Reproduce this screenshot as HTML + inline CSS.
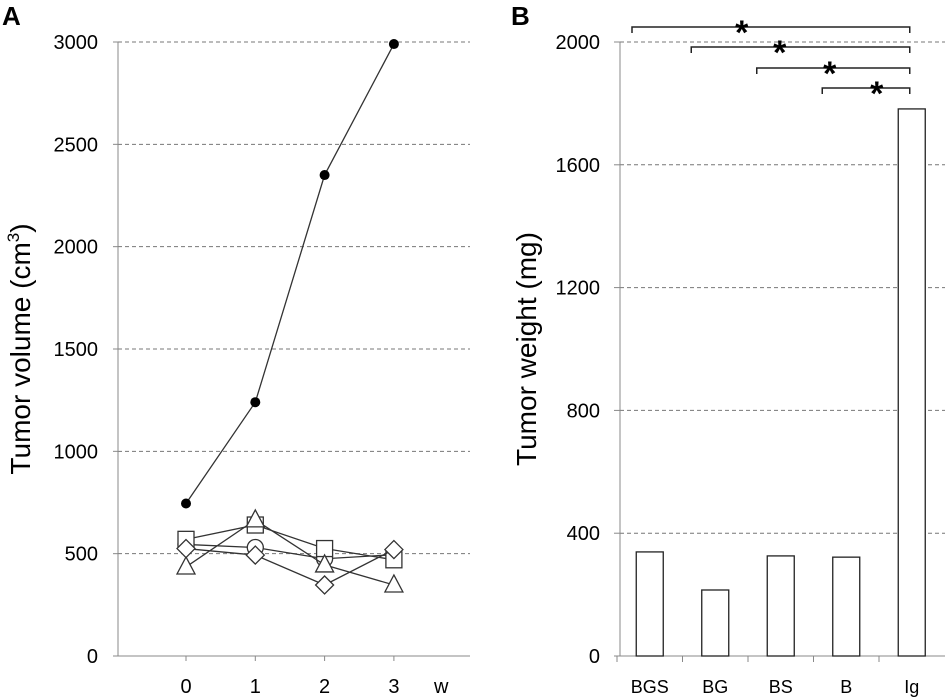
<!DOCTYPE html>
<html><head><meta charset="utf-8"><style>
body{margin:0;background:#fff}
svg{display:block;font-family:"Liberation Sans",sans-serif}
</style></head><body>
<svg id="c" width="945" height="697">
<text x="2" y="25" font-size="26" font-weight="bold">A</text>
<text x="511" y="25" font-size="26" font-weight="bold">B</text>
<text transform="translate(30,349) rotate(-90)" text-anchor="middle" font-size="28">Tumor volume (cm<tspan font-size="17" dy="-11">3</tspan><tspan dy="11">)</tspan></text>
<text transform="translate(536,349) rotate(-90)" text-anchor="middle" font-size="28">Tumor weight (mg)</text>
<g id="ga"></g><g id="gb"></g>
</svg>
<script>
const weeks=[0,1,2,3];
const volTicks=[0,500,1000,1500,2000,2500,3000];
const sFilled=[745,1240,2350,2990];
const sSquare=[570,640,525,470];
const sTriangle=[435,665,445,347];
const sCircle=[545,530,475,495];
const sDiamond=[525,493,347,520];
const cats=["BGS","BG","BS","B","Ig"];
const weights=[339,215,326,322,1782];
const wTicks=[0,400,800,1200,1600,2000];
const brackets=[[0,4],[1,4],[2,4],[3,4]];
const NS="http://www.w3.org/2000/svg";
function mk(p,t,a){const e=document.createElementNS(NS,t);for(const k in a)e.setAttribute(k,a[k]);p.appendChild(e);return e;}
const ga=document.getElementById('ga'),gb=document.getElementById('gb');
// Panel A
const ax=w=>186+w*69.3, ay=v=>656-v*(614/3000);
volTicks.forEach(v=>{
 if(v>0){const l=mk(ga,'line',{x1:118,x2:470,y1:ay(v),y2:ay(v),stroke:'#777','stroke-dasharray':'4,3'});
 
 }
 const t=mk(ga,'text',{x:98,y:ay(v)+7,'text-anchor':'end','font-size':20});t.textContent=v;
 
 
 mk(ga,'line',{x1:113,x2:118,y1:ay(v),y2:ay(v),stroke:'#888'});
});
mk(ga,'line',{x1:118,x2:118,y1:42,y2:656,stroke:'#888'});
mk(ga,'line',{x1:118,x2:470,y1:656,y2:656,stroke:'#888'});
weeks.forEach(w=>{mk(ga,'line',{x1:ax(w),x2:ax(w),y1:656,y2:661,stroke:'#888'});
 const t=mk(ga,'text',{x:ax(w),y:693,'text-anchor':'middle','font-size':20});t.textContent=w;
 
 });
const wl=mk(ga,'text',{x:434,y:693,'font-size':20});wl.textContent='w';
function series(vals,shape,name){
 const pts=vals.map((v,i)=>ax(weeks[i])+','+ay(v)).join(' ');
 const pl=mk(ga,'polyline',{points:pts,fill:'none',stroke:'#333','stroke-width':1.3});
 
 
 vals.forEach((v,i)=>{const x=ax(weeks[i]),y=ay(v);let e;
  if(shape=='filled')e=mk(ga,'circle',{cx:x,cy:y,r:5,fill:'#000'});
  else if(shape=='circle')e=mk(ga,'circle',{cx:x,cy:y,r:8,fill:'#fff',stroke:'#333','stroke-width':1.3});
  else if(shape=='square')e=mk(ga,'rect',{x:x-8,y:y-8,width:16,height:16,fill:'#fff',stroke:'#333','stroke-width':1.3});
  else if(shape=='triangle')e=mk(ga,'polygon',{points:`${x},${y-10} ${x+9},${y+7} ${x-9},${y+7}`,fill:'#fff',stroke:'#333','stroke-width':1.3});
  else e=mk(ga,'polygon',{points:`${x},${y-9} ${x+9},${y} ${x},${y+9} ${x-9},${y}`,fill:'#fff',stroke:'#333','stroke-width':1.3});
  
  });
}
series(sCircle,'circle','circle-series');
series(sSquare,'square','square-series');
series(sTriangle,'triangle','triangle-series');
series(sDiamond,'diamond','diamond-series');
series(sFilled,'filled','filled-series');
// Panel B
const band=65.5,bx=i=>617+band*(i+0.5), by=v=>656-v*(614/2000);
wTicks.forEach(v=>{
 if(v>0){const l=mk(gb,'line',{x1:620,x2:945,y1:by(v),y2:by(v),stroke:'#777','stroke-dasharray':'4,3'});
 
 }
 const t=mk(gb,'text',{x:600,y:by(v)+7,'text-anchor':'end','font-size':20});t.textContent=v;
 
 
 mk(gb,'line',{x1:614,x2:620,y1:by(v),y2:by(v),stroke:'#888'});
});
mk(gb,'line',{x1:620,x2:620,y1:42,y2:656,stroke:'#888'});
mk(gb,'line',{x1:620,x2:945,y1:656,y2:656,stroke:'#888'});
cats.forEach((c,i)=>{
 mk(gb,'line',{x1:617+band*i,x2:617+band*i,y1:656,y2:662,stroke:'#888'});
 const r=mk(gb,'rect',{x:bx(i)-13.5,y:by(weights[i]),width:27,height:656-by(weights[i]),fill:'#fff',stroke:'#222','stroke-width':1.3});
 
 
 const t=mk(gb,'text',{x:bx(i),y:693,'text-anchor':'middle','font-size':18});t.textContent=c;
 
 
});
const bys=[27,47,68,88];
const starOff=[168,130,80,33];
brackets.forEach((b,k)=>{
 const x1=k==0?632:bx(b[0])-24,x2=bx(b[1])-2,y=bys[k];
 const p=mk(gb,'path',{d:`M${x1},${y+6}V${y}H${x2}V${y+6}`,fill:'none',stroke:'#222','stroke-width':1.5});
 
 
 const t=mk(gb,'text',{x:x2-starOff[k],y:y+17,'text-anchor':'middle','font-size':34,'font-weight':'bold'});t.textContent='*';
 
 
});
</script>
</body></html>
